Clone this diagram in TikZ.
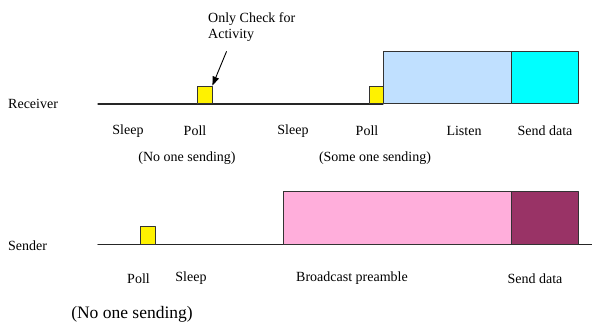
\documentclass[tikz,border=0pt]{standalone}
\usepackage{fontspec}
\setmainfont{Liberation Serif}
\usetikzlibrary{arrows.meta}
\definecolor{listenblue}{RGB}{192,224,255}
\definecolor{datacyan}{RGB}{0,255,255}
\definecolor{preamblepink}{RGB}{255,174,219}
\definecolor{datamaroon}{RGB}{153,51,102}
\tikzset{
  lbl/.style={font=\fontsize{14}{16}\selectfont,inner sep=0pt},
  slot/.style={draw=black!80,line width=0.9pt,inner sep=0pt,anchor=south west},
  pollbox/.style={slot,fill=yellow,minimum width=14.5pt,minimum height=17.5pt},
}
\begin{document}
\begin{tikzpicture}[x=1pt,y=-1pt,line cap=round,line join=round]
  \useasboundingbox (0,0) rectangle (592,325);
  % receiver
  \draw[line width=1.1pt,black!85] (98,104)--(383,104);
  \node[pollbox] (rpollA) at (197,104) {};
  \node[pollbox] (rpollB) at (368.5,104) {};
  \node[slot,fill=listenblue,minimum width=128.5pt,minimum height=52.5pt] (rlisten) at (382.5,104) {};
  \node[slot,fill=datacyan,minimum width=67pt,minimum height=52.5pt] (rdata) at (511,104) {};
  \node[lbl,anchor=west] (receiver) at (8,104) {Receiver};
  \node[lbl,anchor=west,align=left] (note) at (208,27) {Only Check for\\Activity};
  \coordinate (notetip) at (226.5,51.5);
  \draw[-{Triangle[length=9pt,width=6.5pt]},line width=0.9pt] (notetip)--(rpollA.north east);
  \foreach \xx/\tt in {128/Sleep,195/Poll,293/Sleep,367/Poll,464/Listen,545/Send data}{
    \node[lbl] at (\xx,131) {\tt};
  }
  \node[lbl] (rnoone) at (187,158) {(No one sending)};
  \node[lbl] (rsome) at (375,158) {(Some one sending)};
  % sender
  \draw[line width=1.1pt,black!85] (98,244.7)--(592,244.7);
  \node[pollbox] (spoll) at (140,244.7) {};
  \node[slot,fill=preamblepink,minimum width=228pt,minimum height=52.5pt] (spre) at (283,244.7) {};
  \node[slot,fill=datamaroon,minimum width=67pt,minimum height=52.5pt] (sdata) at (511,244.7) {};
  \node[lbl,anchor=west] (sender) at (8,246) {Sender};
  \foreach \xx/\tt in {138.5/Poll,191/Sleep,352/Broadcast preamble,535/Send data}{
    \node[lbl] at (\xx,278.5) {\tt};
  }
  \node[lbl,font=\fontsize{17.5}{20}\selectfont] (snoone) at (132,314.5) {(No one sending)};
\end{tikzpicture}
\end{document}
